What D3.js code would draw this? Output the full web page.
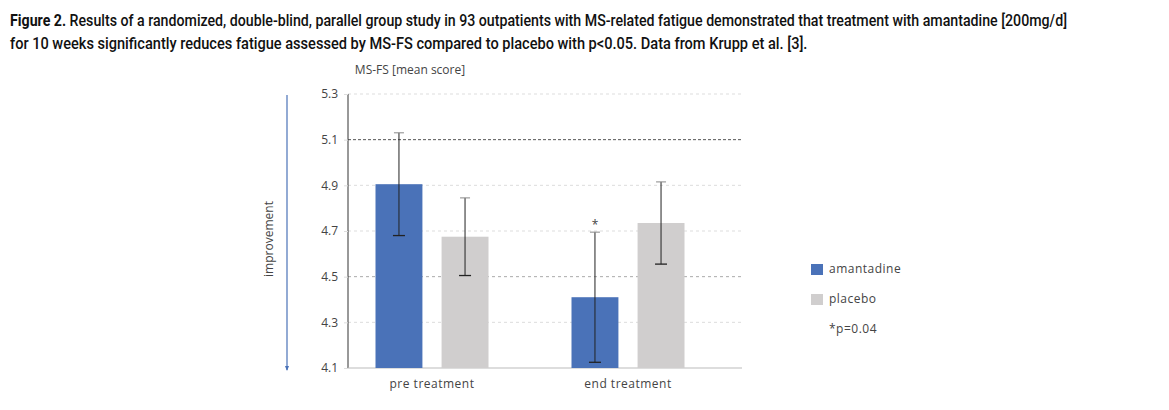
<html><head><meta charset="utf-8">
<style>
    body { margin: 0; background: #fff; font-family: "Open Sans", Arial, sans-serif; }
    svg { display: block; }
</style>
</head>
<body>
<svg id="chart"></svg>
<script src="https://d3js.org/d3.v7.min.js"></script>
<script>
    // chart values
    let categories = ["pre treatment", "end treatment"];
    let series = ["amantadine", "placebo"];
    let means = [[4.905, 4.675], [4.41, 4.735]];
    let errors = [[0.225, 0.17], [0.285, 0.18]];
    let yTicks = [4.1, 4.3, 4.5, 4.7, 4.9, 5.1, 5.3];
    let colors = ["#4a72b8", "#d0cece"];

    let captionBold = "Figure 2.";
    let captionLine1 = " Results of a randomized, double-blind, parallel group study in 93 outpatients with MS-related fatigue demonstrated that treatment with amantadine [200mg/d]";
    let captionLine2 = "for 10 weeks significantly reduces fatigue assessed by MS-FS compared to placebo with p<0.05. Data from Krupp et al. [3].";

    let width = 1169, height = 410;
    let svg = d3.select("#chart").attr("width", width).attr("height", height);

    // caption, squeezed horizontally to look like the condensed font of the original
    function captionLine(y, parts, target) {
        let g = svg.append("g");
        let t = g.append("text").attr("x", 0).attr("y", y)
            .style("font-family", "Roboto, sans-serif").style("font-size", "16px").attr("fill", "#111");
        parts.forEach(p => t.append("tspan").text(p.text).style("font-weight", p.bold ? "bold" : "500"));
        let w = t.node().getComputedTextLength();
        g.attr("transform", `translate(10,0) scale(${target / w},1)`);
    }
    captionLine(26, [{text: captionBold, bold: true}, {text: captionLine1}], 1058);
    captionLine(49, [{text: captionLine2}], 798);

    let plot = {left: 348, right: 742, top: 94, bottom: 368};

    let y = d3.scaleLinear().domain([4.1, 5.3]).range([plot.bottom, plot.top]);
    let x = d3.scaleBand().domain(categories).range([334, 726]);
    let xSub = d3.scaleBand().domain(series).range([-56.5, 56.5]).paddingInner(0.29);

    let textColor = "#444";

    // gridlines
    svg.append("g").selectAll("line").data(yTicks.filter(d => d > 4.1)).join("line")
        .attr("x1", plot.left).attr("x2", plot.right)
        .attr("y1", d => y(d)).attr("y2", d => y(d))
        .attr("stroke", d => d === 5.1 ? "#555" : (d === 4.5 ? "#aaa" : "#ddd"))
        .attr("stroke-dasharray", d => d === 5.1 ? "3,2" : "3,3")
        .attr("stroke-width", 1);

    // y axis
    let yAxis = d3.axisLeft(y).tickValues(yTicks).tickFormat(d3.format(".1f")).tickSize(4);
    let ya = svg.append("g").attr("transform", `translate(${plot.left},0)`).call(yAxis);
    ya.select(".domain").attr("stroke", "#333").attr("d", `M0,${plot.top}V${plot.bottom}`);
    ya.selectAll(".tick line").attr("stroke", "#ddd");
    ya.selectAll(".tick text").attr("fill", textColor).style("font-size", "12px")
        .style("font-family", "'Open Sans', sans-serif").attr("x", -10);

    // baseline
    svg.append("line").attr("x1", plot.left).attr("x2", plot.right)
        .attr("y1", y(4.1)).attr("y2", y(4.1)).attr("stroke", "#bbb");

    // bars
    let rows = [];
    categories.forEach((c, i) => series.forEach((s, j) => rows.push({c, s, j, v: means[i][j], e: errors[i][j]})));

    let bars = svg.append("g");
    bars.selectAll("rect").data(rows).join("rect")
        .attr("x", d => x(d.c) + x.bandwidth() / 2 + xSub(d.s))
        .attr("width", xSub.bandwidth())
        .attr("y", d => y(d.v))
        .attr("height", d => y(4.1) - y(d.v))
        .attr("fill", d => colors[d.j]);

    // error bars
    let cx = d => x(d.c) + x.bandwidth() / 2 + xSub(d.s) + xSub.bandwidth() / 2;
    let eb = svg.append("g").attr("stroke", "#222").attr("stroke-width", 1);
    eb.selectAll(".stem").data(rows).join("line").attr("class", "stem")
        .attr("x1", cx).attr("x2", cx)
        .attr("y1", d => y(d.v + d.e)).attr("y2", d => y(d.v - d.e));
    eb.selectAll(".capT").data(rows).join("line").attr("class", "capT")
        .attr("x1", d => cx(d) - 5).attr("x2", d => cx(d) + 5)
        .attr("y1", d => y(d.v + d.e)).attr("y2", d => y(d.v + d.e)).attr("stroke", "#888");
    eb.selectAll(".capB").data(rows).join("line").attr("class", "capB")
        .attr("x1", d => cx(d) - 6).attr("x2", d => cx(d) + 6)
        .attr("y1", d => y(d.v - d.e)).attr("y2", d => y(d.v - d.e)).attr("stroke-width", 1.3);

    // significance star
    let star = rows[2];
    svg.append("text").attr("x", cx(star)).attr("y", y(star.v + star.e) - 3)
        .attr("text-anchor", "middle").attr("fill", textColor).style("font-size", "12px").text("*");

    // category labels
    svg.append("g").selectAll("text").data(categories).join("text")
        .attr("x", d => x(d) + x.bandwidth() / 2).attr("y", 388)
        .attr("text-anchor", "middle").attr("fill", textColor)
        .style("font-size", "12px").style("letter-spacing", "0.5px").text(d => d);

    // axis title
    svg.append("text").attr("x", 410).attr("y", 74).attr("text-anchor", "middle")
        .attr("fill", textColor).style("font-size", "12px").text("MS-FS [mean score]");

    // improvement arrow
    svg.append("line").attr("x1", 287).attr("x2", 287).attr("y1", 95).attr("y2", 370)
        .attr("stroke", "#4a72b8").attr("stroke-width", 1.2);
    svg.append("path").attr("d", "M285,366L287,371L289,366Z").attr("fill", "#4a72b8");
    svg.append("text").attr("transform", "translate(273,239) rotate(-90)")
        .attr("text-anchor", "middle").attr("fill", textColor).style("font-size", "12px").text("improvement");

    // legend
    let lg = svg.append("g").attr("transform", "translate(811,264)");
    let li = lg.selectAll("g").data(series).join("g").attr("transform", (d, i) => `translate(0,${i * 30})`);
    li.append("rect").attr("width", 12).attr("height", 11).attr("fill", (d, i) => colors[i]);
    li.append("text").attr("x", 18).attr("y", 9).attr("fill", textColor)
        .style("font-size", "12px").style("letter-spacing", "0.5px").text(d => d);
    lg.append("text").attr("x", 18).attr("y", 69).attr("fill", textColor)
        .style("font-size", "12px").style("letter-spacing", "0.5px").text("*p=0.04");
</script>
</body></html>
